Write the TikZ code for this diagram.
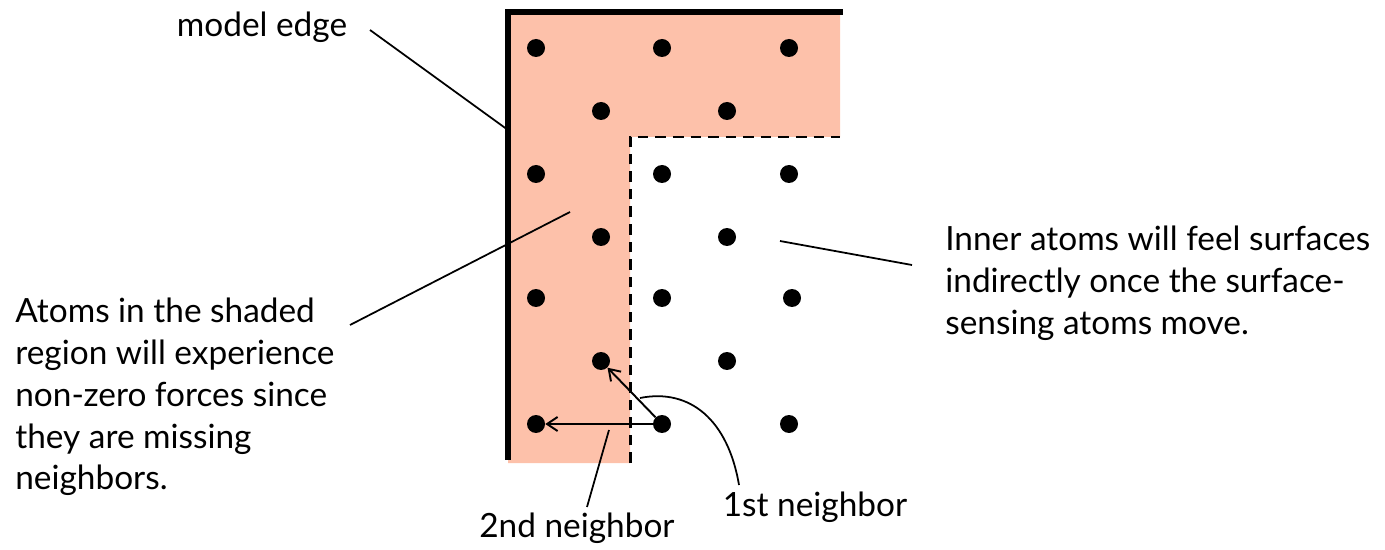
\documentclass[tikz,border=0pt]{standalone}
\usepackage{fontspec}
\setmainfont{Lato}
\usetikzlibrary{arrows.meta}
\definecolor{surfshade}{RGB}{253,193,170}
\definecolor{ink}{RGB}{0,0,0}

\begin{document}
\begin{tikzpicture}[
        x=0.02cm,y=-0.02cm,
        atom/.style={circle,fill=ink,minimum size=0.36cm,inner sep=0pt},
        lbl/.style={font=\fontsize{19}{23.8}\selectfont,inner sep=0pt},
        lead/.style={line width=1pt,draw=ink},
        arr/.style={-{Straight Barb[length=6pt,width=8pt]},line width=1.1pt,draw=ink}
      ]
      \useasboundingbox (0,0) rectangle (1385,550);

      % shaded surface region
      \fill[surfshade] (508,12) -- (840,12) -- (840,137) -- (630,137) -- (630,463) -- (508,463) -- cycle;
      \draw[line width=3pt,line cap=rect] (508,457) -- (508,12) -- (840,12);
      \draw[line width=1.7pt,dash pattern=on 6pt off 4pt] (630,463) -- (630,137) -- (840,137);

      % atoms
      \foreach \n/\x/\y in {a1/536/48, a2/662/48, a3/789/48,
                            b1/601/111, b2/727/111,
                            c1/536/174, c2/662/174, c3/789/174,
                            d1/601/237, d2/727/237,
                            e1/536/298, e2/662/298, e3/792/298,
                            f1/601/361, f2/727/361,
                            g1/536/424, g2/662/424, g3/789/424}
        \node[atom] (\n) at (\x,\y) {};

      \draw[arr] (g2) -- (g1);
      \draw[arr] (g2) -- (f1);

      % labels
      \node[lbl] (edge) at (262,27) {model edge};
      \node[lbl,anchor=west,align=left] (shaded) at (15,397)
        {Atoms in the shaded\\region will experience\\non-zero forces since\\they are missing\\neighbors.};
      \node[lbl,anchor=west,align=left] (inner) at (945,283)
        {Inner atoms will feel surfaces\\indirectly once the surface-\\sensing atoms move.};
      \node[lbl] (second) at (577,528) {2nd neighbor};
      \node[lbl] (first) at (815,507) {1st neighbor};

      \coordinate (edgept) at (508,130);
      \coordinate (shadept) at (570,212);
      \coordinate (innerpt) at (780,241);
      \coordinate (secondpt) at (609,430);
      \coordinate (firstpt) at (640,398);

      \draw[lead] (370,30) -- (edgept);
      \draw[lead] (350,325) -- (shadept);
      \draw[lead] (912,265) -- (innerpt);
      \draw[lead] (587,507) -- (secondpt);
      \draw[lead] (739,485) .. controls (728,420) and (690,388) .. (firstpt);
\end{tikzpicture}
\end{document}
